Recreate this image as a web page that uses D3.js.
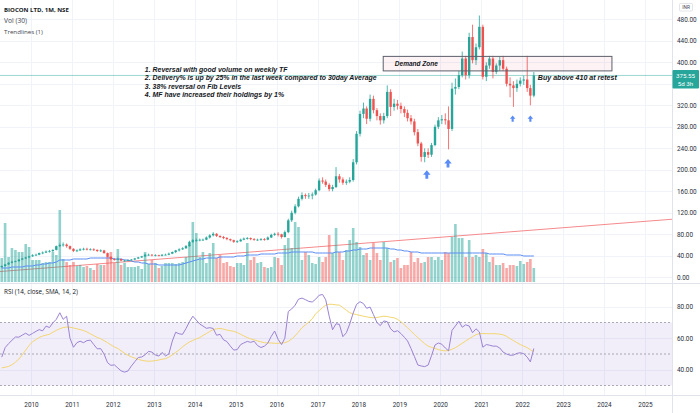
<!DOCTYPE html>
<html>
<head>
<meta charset="utf-8">
<script src="https://cdn.jsdelivr.net/npm/d3@7/dist/d3.min.js"></script>
<style>
  html, body { margin: 0; background: #fff; }
  svg { display: block; font-family: Roboto, "Open Sans", sans-serif; }
</style>
</head>
<body>
<svg id="svg" width="700" height="413"></svg>
<script>
// BIOCON LTD monthly candles, Apr 2009 .. Apr 2022
const firstMonth = new Date(2009, 3, 1);

const opens = [
  19, 21, 24, 27, 29, 30, 33, 35, 37,
  39, 41, 42, 45, 46, 48, 49, 51, 58, 60, 61, 58,
  53, 49, 50, 52, 53, 52, 52, 51, 49, 50, 45, 38,
  34, 33, 34, 31, 31, 32, 33, 35, 37, 39, 42, 42,
  41, 41, 40, 42, 42, 44, 47, 50, 52, 54, 58, 66,
  69, 69, 70, 70, 74, 78, 81, 77, 75, 73, 71, 69,
  66, 67, 70, 72, 73, 71, 70, 70, 71, 70, 74, 79,
  81, 80, 75, 84, 106, 120, 132, 146, 153, 151, 152, 154,
  162, 180, 178, 172, 164, 168, 188, 182, 176, 178, 181, 214,
  267, 304, 314, 295, 332, 311, 300, 292, 300, 345, 317, 323,
  319, 313, 306, 296, 290, 270, 249, 224, 233, 228, 246, 280,
  292, 294, 292, 276, 351, 354, 376, 407, 376, 447, 404, 428,
  466, 373, 394, 407, 382, 394, 404, 388, 360, 357, 352, 360,
  366, 368, 352, 338
];
const highs = [
  22, 25, 28, 31, 31, 34, 36, 38, 40,
  43, 44, 46, 48, 50, 51, 52, 59, 63, 65, 63, 59,
  54, 52, 54, 55, 55, 54, 54, 52, 52, 51, 46, 39,
  36, 37, 35, 33, 33, 34, 36, 38, 40, 44, 44, 43,
  43, 42, 43, 44, 46, 48, 51, 54, 56, 60, 68, 71,
  72, 72, 72, 76, 80, 84, 82, 78, 77, 75, 72, 70,
  69, 72, 74, 75, 74, 73, 72, 73, 73, 76, 81, 83,
  84, 81, 87, 109, 124, 136, 150, 158, 156, 157, 158, 165,
  184, 186, 182, 175, 172, 205, 192, 186, 182, 186, 220, 272,
  310, 325, 318, 340, 338, 315, 305, 306, 357, 350, 332, 330,
  325, 318, 312, 302, 295, 276, 252, 240, 240, 250, 284, 298,
  302, 305, 318, 362, 370, 384, 420, 412, 455, 470, 435, 487,
  470, 400, 412, 412, 398, 410, 412, 392, 372, 365, 368, 372,
  375, 412, 358, 382
];
const lows = [
  18, 20, 23, 26, 28, 29, 32, 34, 36,
  38, 40, 41, 43, 45, 46, 47, 50, 56, 57, 55, 51,
  47, 47, 49, 50, 50, 50, 49, 47, 47, 44, 37, 32,
  31, 32, 30, 29, 30, 31, 32, 34, 36, 38, 40, 39,
  39, 39, 39, 41, 41, 43, 45, 48, 51, 53, 57, 64,
  66, 67, 68, 69, 72, 76, 75, 73, 71, 69, 67, 64,
  64, 66, 69, 70, 69, 68, 68, 68, 68, 69, 73, 77,
  76, 72, 74, 82, 103, 117, 130, 143, 146, 146, 145, 152,
  160, 174, 168, 160, 160, 166, 176, 172, 172, 175, 178, 210,
  262, 296, 285, 290, 305, 292, 284, 286, 296, 300, 310, 312,
  305, 298, 290, 284, 264, 244, 215, 214, 222, 224, 244, 276,
  285, 284, 238, 272, 340, 350, 372, 368, 370, 398, 395, 424,
  368, 365, 388, 370, 378, 384, 384, 355, 335, 317, 345, 355,
  358, 345, 320, 335
];
const closes = [
  21, 24, 27, 29, 30, 33, 35, 37, 39,
  41, 42, 45, 46, 48, 49, 51, 58, 60, 61, 58, 53,
  49, 50, 52, 53, 52, 52, 51, 49, 50, 45, 38, 34,
  33, 34, 31, 31, 32, 33, 35, 37, 39, 42, 42, 41,
  41, 40, 42, 42, 44, 47, 50, 52, 54, 58, 66, 69,
  69, 70, 70, 74, 78, 81, 77, 75, 73, 71, 69, 66,
  67, 70, 72, 73, 71, 70, 70, 71, 70, 74, 79, 81,
  80, 75, 84, 106, 120, 132, 146, 153, 151, 152, 154, 162,
  180, 178, 172, 164, 168, 188, 182, 176, 178, 181, 214, 267,
  304, 314, 295, 332, 311, 300, 292, 300, 345, 317, 323, 319,
  313, 306, 296, 290, 270, 249, 224, 233, 228, 246, 280, 292,
  294, 292, 276, 351, 354, 376, 407, 376, 447, 404, 428, 466,
  373, 394, 407, 382, 394, 404, 388, 360, 357, 352, 360, 366,
  368, 352, 338, 375.55
];
// volume, arbitrary units (same scale as the picture)
const volumes = [
  24, 59, 25, 34, 32, 30, 30, 38, 35,
  22, 22, 22, 19, 20, 20, 30, 27, 72, 23, 20, 17,
  20, 16, 17, 15, 16, 14, 12, 18, 17, 17, 25, 30,
  19, 33, 17, 19, 15, 15, 15, 16, 13, 30, 18, 22,
  19, 14, 16, 19, 19, 19, 18, 19, 20, 25, 37, 60,
  49, 25, 30, 19, 29, 39, 24, 27, 19, 20, 16, 15,
  19, 19, 17, 39, 22, 25, 19, 20, 15, 14, 15, 25,
  24, 17, 37, 44, 34, 60, 55, 22, 30, 27, 19, 18,
  25, 20, 25, 47, 29, 54, 30, 22, 32, 42, 54, 40,
  35, 27, 29, 22, 39, 29, 22, 40, 34, 20, 22, 24,
  14, 17, 17, 30, 20, 24, 19, 20, 25, 25, 22, 25,
  22, 30, 29, 45, 58, 44, 44, 25, 42, 25, 27, 25,
  33, 29, 20, 25, 17, 17, 19, 14, 17, 17, 16, 21,
  18, 20, 23, 14
];
const volumeMA = [
  14, 14, 14, 15, 15, 15, 15, 16, 16,
  16, 17, 17, 18, 18, 19, 19, 20, 22, 22, 22, 22,
  23, 23, 23, 23, 23, 24, 24, 24, 24, 24, 24, 24,
  23, 23, 23, 22, 22, 21, 20, 20, 19, 19, 18, 18,
  18, 17, 17, 17, 17, 17, 17, 17, 18, 19, 20, 21,
  22, 23, 23, 24, 24, 24, 24, 25, 25, 25, 25, 25,
  26, 26, 26, 27, 27, 27, 27, 28, 28, 28, 28, 28,
  29, 29, 29, 29, 30, 30, 30, 30, 30, 30, 30, 29,
  29, 29, 29, 29, 29, 30, 30, 30, 31, 31, 32, 32,
  33, 33, 33, 34, 34, 34, 34, 34, 34, 33, 33, 32,
  32, 31, 31, 30, 30, 30, 29, 29, 29, 29, 29, 29,
  29, 29, 29, 29, 29, 29, 29, 29, 29, 29, 29, 29,
  29, 29, 28, 28, 28, 28, 28, 27, 27, 27, 27, 27,
  26, 26, 26, 26
];
const rsi = [
  48, 54, 56.6, 58.7, 60.8, 60.7, 62, 63.2, 61.8,
  63.1, 64.4, 65.5, 64.7, 67.7, 66.8, 69.8, 72, 76.2, 72, 74, 60,
  54.3, 57.2, 58.1, 57.2, 58.5, 58.8, 56, 53.3, 53.4, 50, 44.5, 42.8,
  43.1, 41.1, 39.3, 38.5, 39.2, 42.4, 45.1, 47.8, 48.1, 49.5, 51.7, 51.2,
  49.4, 48.7, 51, 48.8, 50, 58.2, 63.8, 62.8, 62.5, 66.2, 70.5, 74,
  71.5, 69, 67.8, 66.3, 66.7, 66.2, 61.9, 62.5, 59, 57.9, 55, 52.5,
  52.8, 56, 57, 58, 57.4, 58.1, 55.4, 54.1, 55, 56.9, 61.2, 64.6,
  59.3, 56, 60, 77, 78.6, 81, 84.8, 85.5, 84.5, 83.4, 83, 84.8,
  87.3, 87.8, 84.4, 74, 65.4, 69.2, 68.8, 61, 63.5, 69, 76, 81.5,
  83.2, 82, 79, 79.8, 75, 70, 68, 71, 70.5, 66, 64, 64.8,
  63, 60.6, 58.3, 53.5, 48.5, 43, 42.4, 42, 43, 49, 55.7, 57,
  56.2, 53.8, 52, 65, 67.8, 70.8, 67, 68.5, 67.8, 63.5, 66, 64,
  54.3, 56, 55.6, 55, 55, 53.8, 51.2, 50, 49.2, 49.3, 50.4, 50.8,
  50.2, 48, 45, 53.5
];
const rsiMA = [
  41.2, 41.6, 42.1, 43.2, 44.8, 46.8, 49.5, 52.5, 55.4,
  57.8, 59.2, 60.5, 61.4, 62, 62.5, 63.8, 65, 66, 66.8, 67.1, 67,
  66.5, 66, 65.5, 64.9, 64, 62.8, 61.7, 60.5, 59.7, 58.5, 57.2, 55.8,
  54.5, 53.5, 52, 50.5, 49.2, 48.2, 47.4, 46.6, 46, 45.6, 45.4, 45.5,
  45.8, 46.2, 46.7, 47, 48, 49.5, 51, 52.6, 54.6, 56.2, 57.6, 58.6,
  59.6, 60.4, 61.8, 63, 64.3, 65.5, 66, 66.2, 65.8, 65.2, 64.8, 64.4,
  63.6, 62.5, 61.5, 60.4, 59.6, 59, 58.3, 57.7, 57.2, 57, 57, 56.8,
  56.8, 57, 57.2, 58, 59.5, 61.5, 64, 66.7, 68.5, 70.3, 72.3, 75.5,
  77.5, 79.5, 81, 81.6, 81.5, 81.2, 81, 79.5, 77.8, 76.2, 75.5, 75,
  74.5, 74, 73.6, 73.2, 73, 73.2, 73.6, 74, 73.8, 73.3, 73, 72,
  70.5, 68.5, 66.7, 64.5, 62.5, 60.4, 58.5, 56.5, 55, 54.2, 53.5, 52.8,
  52.2, 52, 52.2, 53, 54, 55.4, 56.8, 58.3, 59.7, 61, 62.3, 62.9,
  63, 62.9, 62.9, 62.9, 62.8, 62.6, 62.2, 61.2, 59.8, 58.5, 57.2, 56,
  55, 54, 52.7, 51.5
];

const priceTicks = [0, 40, 80, 120, 160, 200, 240, 280, 320, 360, 400, 440, 480];
const rsiTicks = [40, 60, 80];
const rsiLevels = [70, 50, 30];
const years = [2010, 2011, 2012, 2013, 2014, 2015, 2016, 2017, 2018, 2019, 2020, 2021, 2022, 2023, 2024, 2025];
const lastPrice = 375.55;
const countdown = '5d 3h';

// drawings, anchored on (date, price)
const trendline = [['2009-04-15', 11], ['2022-04-15', 88]];
const demandZone = { from: '2018-08-10', to: '2024-03-12', top: 411, bottom: 384, label: 'Demand Zone', labelAt: '2018-11-22' };
const buyNote = { at: '2022-05-21', price: 372, text: 'Buy above 410 at retest' };
const notesAt = ['2012-10-13', 387];
const notes = [
  '1. Reversal with good volume on weekly TF',
  '2. Delivery% is up by 25% in the last week compared to 30day Average',
  '3. 38% reversal on Fib Levels',
  '4. MF have increased their holdings by 1%'
];
const arrows = [['2019-09-03', 199, 'big'], ['2020-03-10', 220, 'big'], ['2021-10-08', 301, 'small'], ['2022-03-15', 301, 'small']];

const svg = d3.select('#svg');
const W = 700, H = 413;
const plotR = 672, mainB = 283, rsiT = 284, rsiB = 395;
const up = '#26a69a', down = '#ef5350';
const parse = d3.timeParse('%Y-%m-%d');

const x = d3.scaleTime().domain([new Date(2010, 0, 1), new Date(2025, 0, 1)]).range([31, 645]);
const y = d3.scaleLinear().domain([0, 480]).range([277.3, 19.3]);
const yVol = d3.scaleLinear().domain([0, 120]).range([282, 162]);
const yRsi = d3.scaleLinear().domain([30, 70]).range([385.5, 322.5]);

const months = d3.timeMonth.range(firstMonth, d3.timeMonth.offset(firstMonth, closes.length));
const bars = months.map((m, i) => ({
  t: d3.timeDay.offset(m, 14), o: opens[i], h: highs[i], l: lows[i], c: closes[i],
  v: volumes[i], vma: volumeMA[i], rsi: rsi[i], rma: rsiMA[i]
}));

const defs = svg.append('defs');
defs.append('clipPath').attr('id', 'clipMain').append('rect').attr('width', plotR).attr('height', mainB);
defs.append('clipPath').attr('id', 'clipRsi').append('rect').attr('y', rsiT).attr('width', plotR).attr('height', rsiB - rsiT);

svg.append('rect').attr('width', W).attr('height', H).attr('fill', '#fff');

// grid
const grid = svg.append('g').attr('stroke', '#f0f3fa').attr('stroke-width', 1);
grid.selectAll('line.h').data(priceTicks).join('line').attr('class', 'h')
  .attr('x1', 0).attr('x2', plotR).attr('y1', d => Math.round(y(d)) + .5).attr('y2', d => Math.round(y(d)) + .5);
grid.selectAll('line.hr').data(rsiTicks).join('line').attr('class', 'hr')
  .attr('x1', 0).attr('x2', plotR).attr('y1', d => Math.round(yRsi(d)) + .5).attr('y2', d => Math.round(yRsi(d)) + .5);
grid.selectAll('line.v').data(years).join('line').attr('class', 'v')
  .attr('x1', d => Math.round(x(new Date(d, 0, 1))) + .5).attr('x2', d => Math.round(x(new Date(d, 0, 1))) + .5)
  .attr('y1', 0).attr('y2', rsiB);

// main pane
const main = svg.append('g').attr('clip-path', 'url(#clipMain)');

// trendline extended across the pane
const [t0, p0] = [parse(trendline[0][0]), trendline[0][1]];
const [t1, p1] = [parse(trendline[1][0]), trendline[1][1]];
const priceAt = px => { const t = x.invert(px); return p0 + (p1 - p0) * (t - t0) / (t1 - t0); };
main.append('line').attr('x1', 0).attr('x2', plotR).attr('y1', y(priceAt(0))).attr('y2', y(priceAt(plotR)))
  .attr('stroke', '#f58a8c').attr('stroke-width', 1);

// volume
main.append('g').selectAll('rect').data(bars).join('rect')
  .attr('x', d => x(d.t) - 1.3).attr('width', 2.6)
  .attr('y', d => yVol(d.v)).attr('height', d => yVol(0) - yVol(d.v))
  .attr('fill', d => d.c >= d.o ? up : down).attr('fill-opacity', 0.5);
main.append('path').datum(bars)
  .attr('d', d3.line().x(d => x(d.t)).y(d => yVol(d.vma)))
  .attr('fill', 'none').attr('stroke', '#5b8cf5').attr('stroke-width', 1);

// last price line
main.append('line').attr('x1', 0).attr('x2', plotR).attr('y1', y(lastPrice)).attr('y2', y(lastPrice))
  .attr('stroke', up).attr('stroke-opacity', 0.45).attr('stroke-width', 1);

// candles
const cg = main.append('g');
cg.selectAll('line').data(bars).join('line')
  .attr('x1', d => x(d.t)).attr('x2', d => x(d.t)).attr('y1', d => y(d.h)).attr('y2', d => y(d.l))
  .attr('stroke', d => d.c >= d.o ? up : down).attr('stroke-width', 0.8);
cg.selectAll('rect').data(bars).join('rect')
  .attr('x', d => x(d.t) - 1.2).attr('width', 2.4)
  .attr('y', d => y(Math.max(d.o, d.c)))
  .attr('height', d => Math.max(0.8, Math.abs(y(d.o) - y(d.c))))
  .attr('fill', d => d.c >= d.o ? up : down);

// demand zone
main.append('rect')
  .attr('x', x(parse(demandZone.from))).attr('width', x(parse(demandZone.to)) - x(parse(demandZone.from)))
  .attr('y', y(demandZone.top)).attr('height', y(demandZone.bottom) - y(demandZone.top))
  .attr('fill', '#f23645').attr('fill-opacity', 0.06).attr('stroke', '#5d606b').attr('stroke-width', 1);

function fitWidth(sel, target) {
  const w = sel.node().getComputedTextLength();
  const fs = parseFloat(sel.attr('font-size'));
  sel.attr('font-size', (fs * target / w).toFixed(2));
  return fs * target / w;
}
const noteFont = '"Liberation Sans", Arial, sans-serif';
const uiFont = '"Open Sans", sans-serif';
const dz = main.append('text').attr('x', x(parse(demandZone.labelAt)))
  .attr('y', (y(demandZone.top) + y(demandZone.bottom)) / 2).attr('dy', '0.35em')
  .attr('font-family', noteFont).attr('font-style', 'italic').attr('font-weight', 700)
  .attr('font-size', 8).attr('fill', '#131722').text(demandZone.label);
fitWidth(dz, 43);
const bn = main.append('text').attr('x', x(parse(buyNote.at))).attr('y', y(buyNote.price)).attr('dy', '0.35em')
  .attr('font-family', noteFont).attr('font-style', 'italic').attr('font-weight', 700)
  .attr('font-size', 8).attr('fill', '#131722').text(buyNote.text);
fitWidth(bn, 79);

// notes block
const ng = main.append('g').attr('font-family', noteFont).attr('font-style', 'italic').attr('font-weight', 700).attr('fill', '#131722');
const nx = x(parse(notesAt[0])), ny = y(notesAt[1]);
const noteTexts = ng.selectAll('text').data(notes).join('text')
  .attr('x', nx).attr('y', (d, i) => ny + i * 8.45).attr('dy', '0.35em').attr('font-size', 8).text(d => d);
const nfs = fitWidth(d3.select(noteTexts.nodes()[1]), 232);
noteTexts.attr('font-size', Math.min(nfs, 7.2).toFixed(2));

// arrows
const arrowPath = (w, h) => `M0,0L${w / 2},${h * 0.52}L${w * 0.19},${h * 0.52}L${w * 0.19},${h}L${-w * 0.19},${h}L${-w * 0.19},${h * 0.52}L${-w / 2},${h * 0.52}Z`;
main.append('g').selectAll('path').data(arrows).join('path')
  .attr('transform', d => `translate(${x(parse(d[0]))},${y(d[1])})`)
  .attr('d', d => d[2] === 'big' ? arrowPath(7.5, 8.5) : arrowPath(5.6, 6.2))
  .attr('fill', '#5a8cf6');

// header
const hdr = svg.append('g').attr('font-family', uiFont);
fitWidth(hdr.append('text').attr('x', 4).attr('y', 12.4).attr('font-weight', 700).attr('font-size', 7).attr('fill', '#131722').text('BIOCON LTD, 1M, NSE'), 65);
fitWidth(hdr.append('text').attr('x', 4).attr('y', 23.4).attr('font-size', 7).attr('fill', '#434651').text('Vol (30)'), 23);
fitWidth(hdr.append('text').attr('x', 4).attr('y', 34.4).attr('font-size', 7).attr('fill', '#434651').text('Trendlines (1)'), 39);

// RSI pane
const rg = svg.append('g').attr('clip-path', 'url(#clipRsi)');
rg.append('rect').attr('x', 0).attr('width', plotR).attr('y', yRsi(70)).attr('height', yRsi(30) - yRsi(70))
  .attr('fill', '#7e57c2').attr('fill-opacity', 0.1);
rg.selectAll('line.lvl').data(rsiLevels).join('line').attr('class', 'lvl')
  .attr('x1', 0).attr('x2', plotR).attr('y1', d => yRsi(d)).attr('y2', d => yRsi(d))
  .attr('stroke', '#9598a1').attr('stroke-width', 0.8).attr('stroke-dasharray', '2,2');
rg.append('path').datum(bars).attr('d', d3.line().x(d => x(d.t)).y(d => yRsi(d.rma)))
  .attr('fill', 'none').attr('stroke', '#f3d670').attr('stroke-width', 1);
rg.append('path').datum(bars).attr('d', d3.line().x(d => x(d.t)).y(d => yRsi(d.rsi)))
  .attr('fill', 'none').attr('stroke', '#9a83d3').attr('stroke-width', 1);
fitWidth(svg.append('text').attr('x', 4).attr('y', 293.6).attr('font-family', uiFont).attr('font-size', 7)
  .attr('fill', '#131722').text('RSI (14, close, SMA, 14, 2)'), 74);

// separators
const sep = svg.append('g').attr('stroke', '#e0e3eb').attr('stroke-width', 1);
sep.append('line').attr('x1', 0).attr('x2', W).attr('y1', mainB + .5).attr('y2', mainB + .5);
sep.append('line').attr('x1', 0).attr('x2', W).attr('y1', rsiB + .5).attr('y2', rsiB + .5);
sep.append('line').attr('x1', plotR + .5).attr('x2', plotR + .5).attr('y1', 0).attr('y2', H);

// price axis (the label under the last-price tag stays hidden, as on the chart)
const ly = y(lastPrice);
const axFont = g => g.attr('font-family', null).attr('font-size', null)
  .call(g => g.select('.domain').remove())
  .call(g => g.selectAll('text').attr('font-size', 6.4).attr('fill', '#2a2e39'));
svg.append('g').attr('transform', `translate(${plotR},0)`)
  .call(d3.axisRight(y).tickValues(priceTicks.filter(t => y(t) < ly - 9 || y(t) > ly + 18))
    .tickFormat(d3.format('.2f')).tickSize(0).tickPadding(5))
  .call(axFont);
svg.append('g').attr('transform', `translate(${plotR},0)`)
  .call(d3.axisRight(yRsi).tickValues(rsiTicks).tickFormat(d3.format('.2f')).tickSize(0).tickPadding(5))
  .call(axFont);
svg.append('g').attr('transform', `translate(0,${rsiB + 2})`)
  .call(d3.axisBottom(x).tickValues(years.map(d => new Date(d, 0, 1))).tickFormat(d3.timeFormat('%Y')).tickSize(0).tickPadding(5))
  .call(axFont);

// last price label
svg.append('rect').attr('x', plotR + 0.5).attr('y', ly - 5.5).attr('width', 26.5).attr('height', 18.5).attr('rx', 1).attr('fill', up);
svg.append('text').attr('x', plotR + 13.5).attr('y', ly + 2.2).attr('text-anchor', 'middle').attr('font-size', 6.2).attr('fill', '#fff').text(d3.format('.2f')(lastPrice));
svg.append('text').attr('x', plotR + 13.5).attr('y', ly + 10.6).attr('text-anchor', 'middle').attr('font-size', 6.2).attr('fill', '#fff').text(countdown);

// currency tag
svg.append('rect').attr('x', 679.5).attr('y', 3.5).attr('width', 13).attr('height', 7.5).attr('rx', 1).attr('fill', '#fff').attr('stroke', '#d1d4dc').attr('stroke-width', 0.6);
svg.append('text').attr('x', 686).attr('y', 9.2).attr('text-anchor', 'middle').attr('font-size', 4.8).attr('fill', '#434651').text('INR');
</script>
</body>
</html>
